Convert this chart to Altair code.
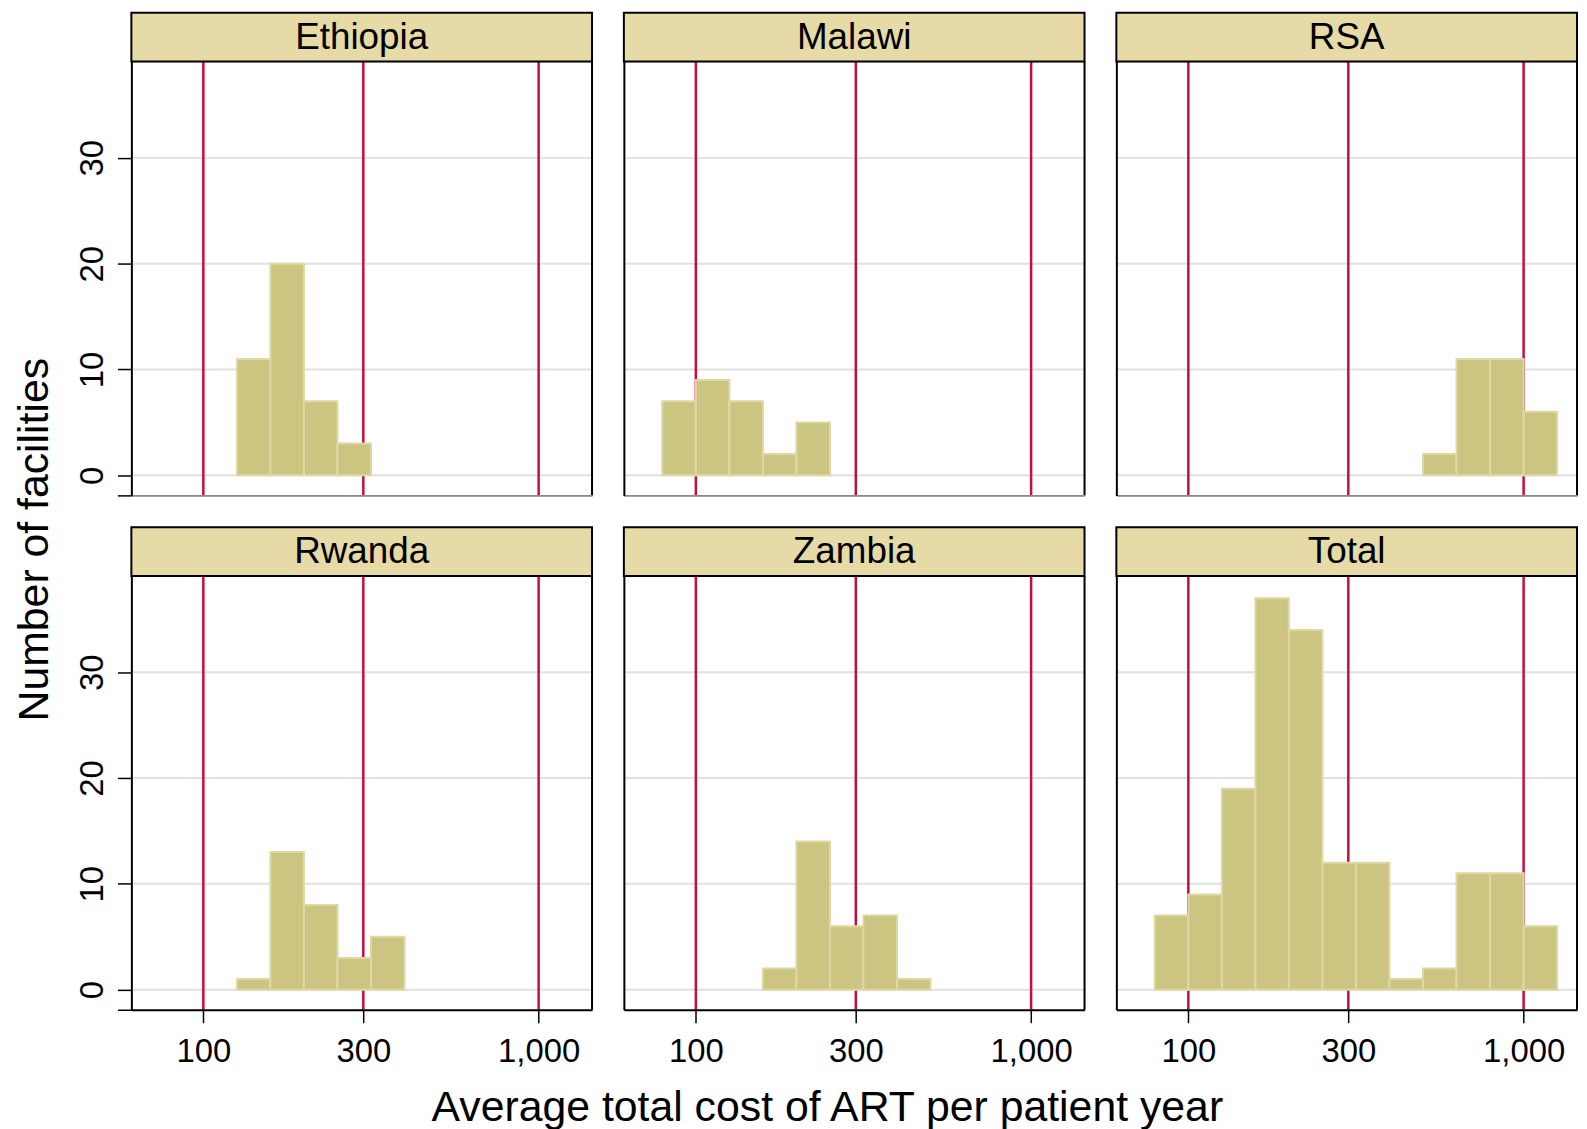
import altair as alt
import pandas as pd

# ---------------- data ----------------
countries_top = ["Ethiopia", "Malawi", "RSA"]
countries_bottom = ["Rwanda", "Zambia", "Total"]

# histogram bin edges (cost, log-spaced bins)
bin_lo = [79.4, 100.0, 125.9, 158.5, 199.5, 251.2, 316.2, 398.1, 501.2, 631.0, 794.3, 1000.0]
bin_hi = [100.0, 125.9, 158.5, 199.5, 251.2, 316.2, 398.1, 501.2, 631.0, 794.3, 1000.0, 1258.9]

counts_ethiopia = [0, 0, 11, 20, 7, 3, 0, 0, 0, 0, 0, 0]
counts_malawi = [7, 9, 7, 2, 5, 0, 0, 0, 0, 0, 0, 0]
counts_rsa = [0, 0, 0, 0, 0, 0, 0, 0, 2, 11, 11, 6]
counts_rwanda = [0, 0, 1, 13, 8, 3, 5, 0, 0, 0, 0, 0]
counts_zambia = [0, 0, 0, 2, 14, 6, 7, 1, 0, 0, 0, 0]
counts_total = [7, 9, 19, 37, 34, 12, 12, 1, 2, 11, 11, 6]

counts = {
    "Ethiopia": counts_ethiopia,
    "Malawi": counts_malawi,
    "RSA": counts_rsa,
    "Rwanda": counts_rwanda,
    "Zambia": counts_zambia,
    "Total": counts_total,
}

ref_lines = [100, 300, 1000]
x_ticks = [100, 300, 1000]
y_ticks = [0, 10, 20, 30]
x_domain = [61.0, 1443.0]
y_domain = [-1.9, 39.1]

x_title = "Average total cost of ART per patient year"
y_title = "Number of facilities"

# ---------------- styling ----------------
W, H, STRIP = 463, 436, 49
FONT = "Liberation Sans"
BAR_FILL = "#ccc481"
BAR_STROKE = "#ded8a5"
STRIP_FILL = "#e6daa6"
RED = "#c90c3c"
GRID = "#e0e0e0"


def panel(name, first_col, last_row):
    bars = pd.DataFrame({"lo": bin_lo, "hi": bin_hi, "n": counts[name]})
    bars = bars[bars["n"] > 0]
    xs = alt.Scale(type="log", domain=x_domain, nice=False)
    ys = alt.Scale(domain=y_domain, nice=False, zero=False)

    if last_row:
        xax = alt.Axis(values=x_ticks, format=",", title=None, grid=False,
                       domainColor="black", domainWidth=2, tickColor="black",
                       tickWidth=1.5, tickSize=13, labelFontSize=33, labelFont=FONT,
                       labelColor="black", labelPadding=13, labelBaseline="top",
                       labelFlush=False, labelOverlap=False, zindex=1)
    else:
        xax = alt.Axis(values=x_ticks, title=None, grid=False, labels=False,
                       ticks=False, domainColor="#8a8a8a", domainWidth=2, zindex=1)
    if first_col:
        yax = alt.Axis(values=[y_domain[0]] + y_ticks,
                       labelExpr="datum.value < 0 ? '' : datum.label",
                       title=None, grid=False, domainColor="black", domainWidth=2,
                       tickColor="black", tickWidth=1.5, tickSize=14,
                       labelFontSize=33, labelFont=FONT, labelColor="black",
                       labelAngle=270, labelAlign="center", labelBaseline="alphabetic",
                       labelPadding=15, labelOverlap=False, zindex=1)
    else:
        yax = alt.Axis(title=None, grid=False, labels=False, ticks=False,
                       domainColor="black", domainWidth=2, zindex=1)

    grid = alt.Chart(pd.DataFrame({"v": y_ticks})).mark_rule(
        color=GRID, strokeWidth=2
    ).encode(
        y=alt.Y("v:Q", scale=ys, axis=yax),
        x=alt.value(0), x2=alt.value(W),
    )
    refs = alt.Chart(pd.DataFrame({"v": ref_lines})).mark_rule(
        color=RED, strokeWidth=2.5
    ).encode(
        x=alt.X("v:Q", scale=xs, axis=xax),
        y=alt.value(0), y2=alt.value(H),
    )
    hist = alt.Chart(bars).mark_rect(
        fill=BAR_FILL, stroke=BAR_STROKE, strokeWidth=2
    ).encode(
        x=alt.X("lo:Q", scale=xs, axis=xax),
        x2="hi:Q",
        y=alt.Y("n:Q", scale=ys, axis=yax),
        y2=alt.datum(0),
    )
    lab = pd.DataFrame({"label": [name]})
    border = alt.Chart(lab).mark_rule(color="black", strokeWidth=2).encode(
        x=alt.value(W), y=alt.value(0), y2=alt.value(H)
    )
    strip = alt.Chart(lab).mark_rect(
        fill=STRIP_FILL, stroke="black", strokeWidth=2
    ).encode(
        x=alt.value(0), x2=alt.value(W), y=alt.value(-STRIP), y2=alt.value(0)
    )
    strip_text = alt.Chart(lab).mark_text(
        fontSize=37, font=FONT, color="black", baseline="alphabetic", align="center"
    ).encode(
        x=alt.value(W / 2), y=alt.value(-13), text="label:N"
    )
    return alt.layer(grid, refs, hist, border, strip, strip_text).properties(
        width=W, height=H
    )


row1 = alt.hconcat(*[panel(c, i == 0, False) for i, c in enumerate(countries_top)], spacing=28)
row2 = alt.hconcat(*[panel(c, i == 0, True) for i, c in enumerate(countries_bottom)], spacing=28)

inner = alt.vconcat(row1, row2, spacing=28).properties(
    title=alt.TitleParams(text=x_title, orient="bottom", anchor="middle",
                          fontSize=43, font=FONT, fontWeight="normal",
                          color="black", offset=18, baseline="top")
)

chart = alt.hconcat(inner).properties(
    title=alt.TitleParams(text=y_title, orient="left", anchor="middle",
                          fontSize=43, font=FONT, fontWeight="normal",
                          color="black", offset=19, dx=31),
    padding={"left": 6, "top": 0, "right": 0, "bottom": 0},
).configure_view(stroke=None).configure(background="white")

chart.save("out.html", embed_options={"renderer": "svg", "actions": False})
